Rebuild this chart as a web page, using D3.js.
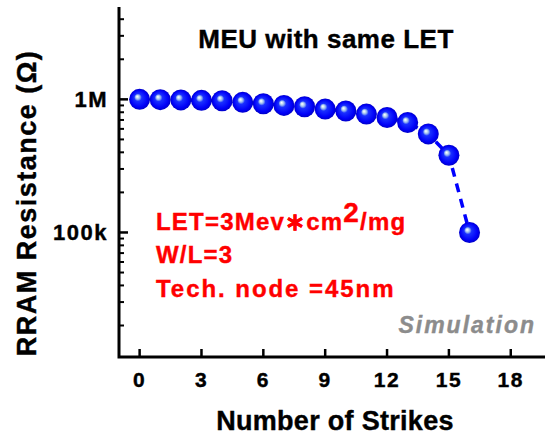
<!DOCTYPE html>
<html><head><meta charset="utf-8">
<script src="https://cdn.jsdelivr.net/npm/d3@7"></script>
<style>
body{margin:0;background:#fff}
svg{display:block}
text{font-family:"Liberation Sans",Arial,sans-serif;font-weight:bold;stroke-width:0.4px}
</style>
</head><body>
<svg id="chart" width="545" height="435"></svg>
<script>
// Resistance of the RRAM cell after each successive strike
const strikes = [0, 1, 2, 3, 4, 5, 6, 7, 8, 9, 10, 11, 12, 13, 14, 15, 16];
const resistance = [1.0e6, 0.995e6, 0.99e6, 0.983e6, 0.976e6, 0.95e6, 0.927e6, 0.90e6, 0.88e6,
                    0.845e6, 0.817e6, 0.775e6, 0.73e6, 0.67e6, 0.55e6, 0.38e6, 0.10e6];
const xTicks = [0, 3, 6, 9, 12, 15, 18];
const yTickValues = [1e5, 1e6];
const yTickLabels = ["100k", "1M"];
const titleText = "MEU with same LET";
const xTitle = "Number of Strikes";
const yTitle = "RRAM Resistance (\u03A9)";
const condLines = ["W/L=3", "Tech. node =45nm"];
const tagText = "Simulation";

const svg = d3.select("#chart");
const plotL = 119, plotT = 7, plotB = 357, plotR = 552;

const x = d3.scaleLinear().domain([-1, 20]).range([plotL, plotR]);
const y = d3.scaleLog().domain([1.16e4, 4.94e6]).range([plotB, plotT]);

// sphere shading for the markers
const defs = svg.append("defs");
const grad = defs.append("radialGradient").attr("id", "ball")
  .attr("cx", "50%").attr("cy", "50%").attr("r", "50%")
  .attr("fx", "38%").attr("fy", "36%");
[[0, "#ffffff"], [0.1, "#d4e8f6"], [0.22, "#8fb0f0"], [0.36, "#1a30ff"], [0.8, "#0000f8"], [1, "#0000c8"]]
  .forEach(([o, c]) => grad.append("stop").attr("offset", o).attr("stop-color", c));

// minor log ticks
const minor = [];
for (let e = 4; e <= 6; e++) for (let m = 2; m <= 9; m++) {
  const v = m * Math.pow(10, e);
  if (v > y.domain()[0] && v < y.domain()[1]) minor.push(v);
}
const axisG = svg.append("g");
axisG.selectAll("line.minor").data(minor).join("line")
  .attr("x1", plotL).attr("x2", plotL + 5)
  .attr("y1", d => y(d)).attr("y2", d => y(d))
  .attr("stroke", "#000").attr("stroke-width", 2);
axisG.selectAll("line.ymaj").data(yTickValues).join("line")
  .attr("x1", plotL).attr("x2", plotL + 9)
  .attr("y1", d => y(d)).attr("y2", d => y(d))
  .attr("stroke", "#000").attr("stroke-width", 2.5);
axisG.selectAll("line.xmaj").data(xTicks).join("line")
  .attr("x1", d => x(d)).attr("x2", d => x(d))
  .attr("y1", plotB).attr("y2", plotB - 8)
  .attr("stroke", "#000").attr("stroke-width", 2.5);

// axis lines
axisG.append("path")
  .attr("d", `M${plotL},${plotT}V${plotB}H545`)
  .attr("fill", "none").attr("stroke", "#000").attr("stroke-width", 3);

// tick labels
svg.selectAll("text.xt").data(xTicks).join("text")
  .attr("x", d => x(d)).attr("y", 387).attr("text-anchor", "middle")
  .attr("font-size", 21).attr("letter-spacing", 1.5).attr("stroke", "#000").text(d => d);
svg.selectAll("text.yt").data(yTickValues).join("text")
  .attr("x", 108).attr("y", d => y(d) + 8).attr("text-anchor", "end")
  .attr("font-size", 22).attr("letter-spacing", 1.5).attr("stroke", "#000").text((d, i) => yTickLabels[i]);

// axis titles
svg.append("text").attr("x", 335).attr("y", 430).attr("text-anchor", "middle")
  .attr("font-size", 27).attr("letter-spacing", 0.3).attr("stroke", "#000").text(xTitle);
svg.append("text").attr("transform", "translate(36,203) rotate(-90)")
  .attr("text-anchor", "middle").attr("font-size", 27).attr("letter-spacing", 1.5)
  .attr("stroke", "#000").text(yTitle);

// title
svg.append("text").attr("x", 326).attr("y", 48).attr("text-anchor", "middle")
  .attr("font-size", 26).attr("letter-spacing", 0.5).attr("stroke", "#000").text(titleText);

// data line and markers
const line = d3.line().x((d, i) => x(strikes[i])).y(d => y(d));
svg.append("path").datum(resistance).attr("d", line)
  .attr("fill", "none").attr("stroke", "#0000ff").attr("stroke-width", 3.5)
  .attr("stroke-dasharray", "9,7");
svg.selectAll("circle.pt").data(resistance).join("circle")
  .attr("cx", (d, i) => x(strikes[i])).attr("cy", d => y(d))
  .attr("r", 10.5).attr("fill", "url(#ball)");

// simulation conditions
const cond = svg.append("g").attr("fill", "#ff0000").attr("stroke", "#ff0000")
  .attr("font-size", 24).attr("letter-spacing", 1.2);
const l1 = cond.append("text").attr("x", 156).attr("y", 230);
l1.append("tspan").text("LET=3Mev\u2217cm");
l1.append("tspan").attr("dy", -8).attr("font-size", 28).text("2");
l1.append("tspan").attr("dy", 8).text("/mg");
cond.selectAll("text.c").data(condLines).join("text")
  .attr("x", 156).attr("y", (d, i) => 263 + i * 34)
  .attr("letter-spacing", (d, i) => i === 1 ? 1.95 : 1.2).text(d => d);

svg.append("text").attr("x", 536).attr("y", 333).attr("text-anchor", "end")
  .attr("font-size", 23).attr("letter-spacing", 2).attr("font-style", "italic")
  .attr("fill", "#8c8c8c").attr("stroke", "#8c8c8c")
  .text(tagText);
</script>
</body></html>
